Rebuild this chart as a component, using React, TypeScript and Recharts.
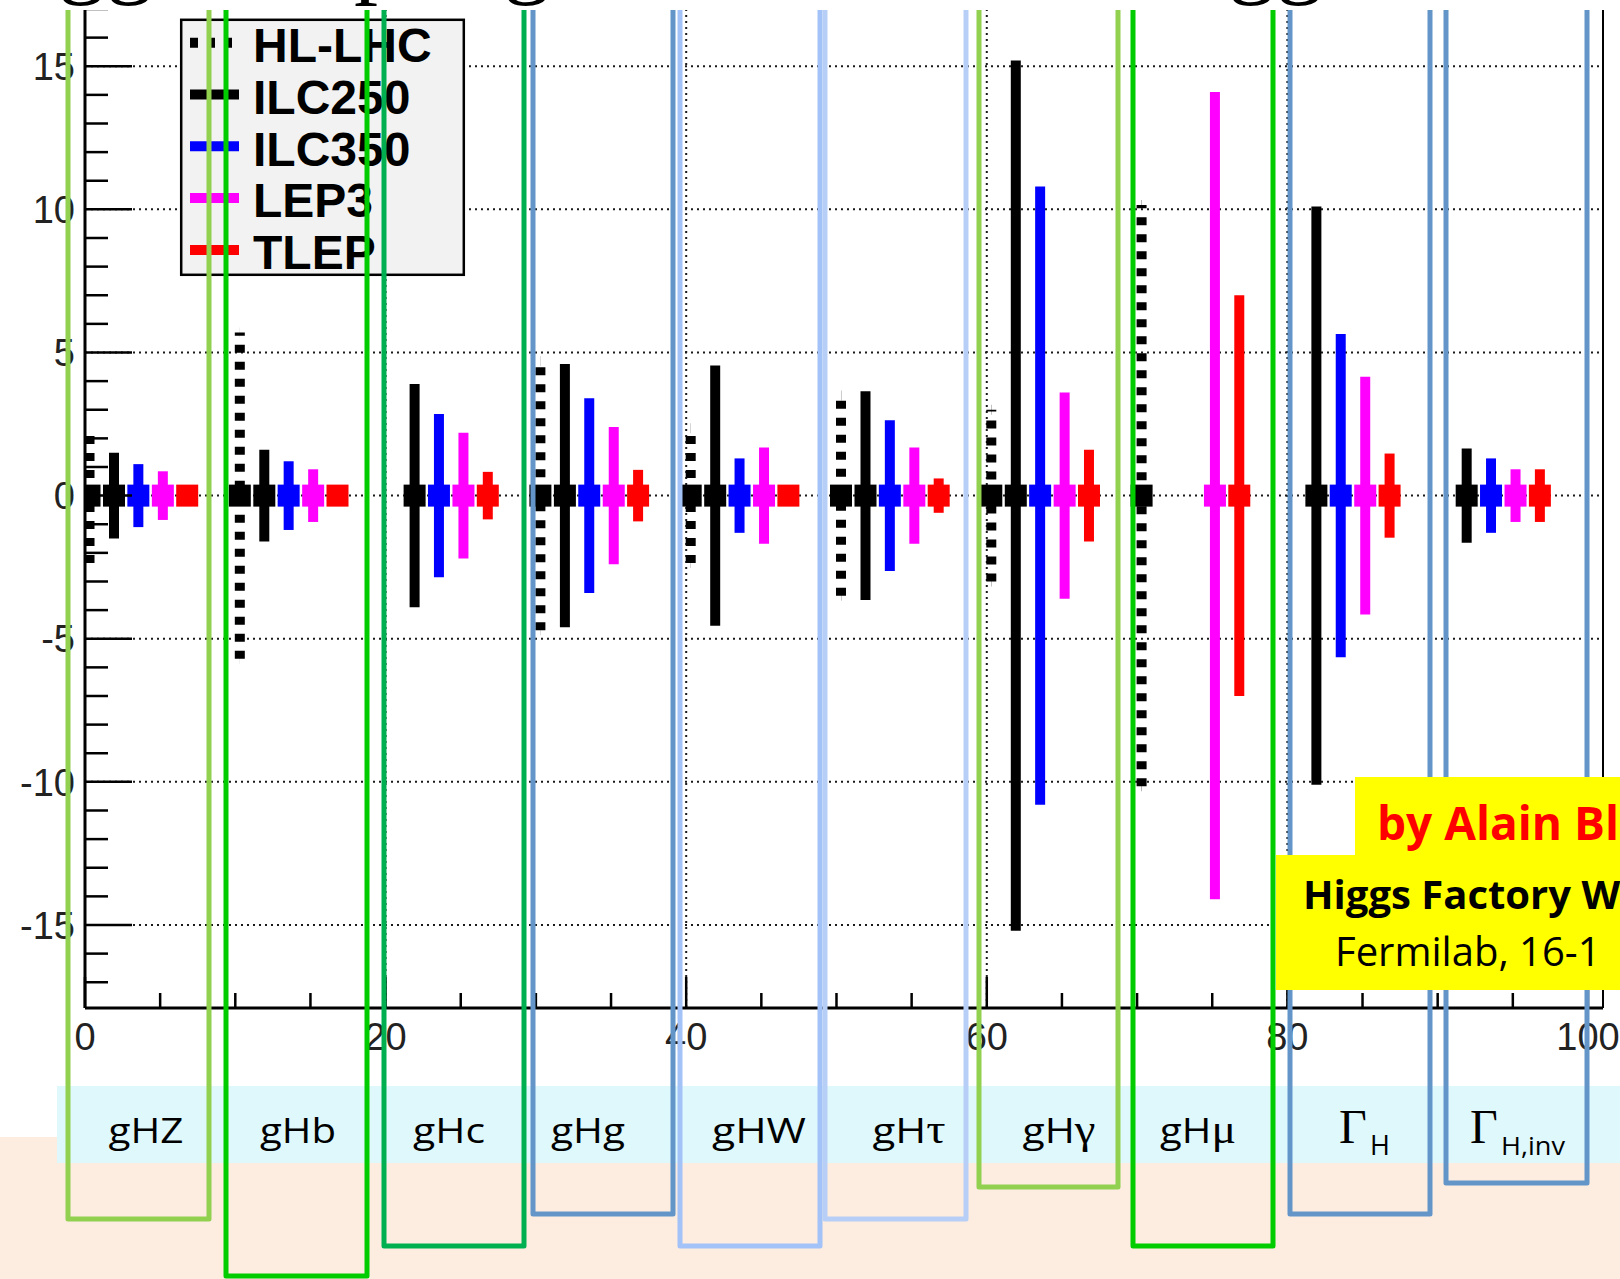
import React from "react";
import {
  ScatterChart,
  Scatter,
  XAxis,
  YAxis,
  CartesianGrid,
  ErrorBar,
  Legend,
  ReferenceLine,
} from "recharts";

// coupling groups, one every 10 units on x
const categories = ["gHZ", "gHb", "gHc", "gHg", "gHW", "gHτ", "gHγ", "gHμ", "ΓH", "ΓH,inv"];
const groupStarts = [0, 10, 20, 30, 40, 50, 60, 70, 80, 90];

// x offset of each machine inside a group
const seriesNames = ["HL-LHC", "ILC250", "ILC350", "LEP3", "TLEP"];
const seriesOffsets = [0.3, 1.93, 3.55, 5.18, 6.8];

// relative precision (±, %) per group, null where the machine has no entry
const hlLhc = [2.35, 5.7, null, 4.7, 2.35, 3.5, 3.0, 10.15, null, null];
const ilc250 = [1.5, 1.6, 3.9, 4.6, 4.55, 3.65, 15.2, null, 10.1, 1.65];
const ilc350 = [1.1, 1.2, 2.85, 3.4, 1.3, 2.63, 10.8, null, 5.65, 1.3];
const lep3 = [0.85, 0.92, 2.2, 2.4, 1.68, 1.68, 3.6, 14.1, 4.15, 0.92];
const tlep = [0.35, 0.35, 0.83, 0.9, 0.35, 0.6, 1.6, 7.0, 1.47, 0.92];

const xTicks = [0, 5, 10, 15, 20, 25, 30, 35, 40, 45, 50, 55, 60, 65, 70, 75, 80, 85, 90, 95, 100];
const xLabels = [0, 20, 40, 60, 80, 100];
const xGrid = [20, 40, 60, 80];
const yTicks = [
  -17, -16, -15, -14, -13, -12, -11, -10, -9, -8, -7, -6, -5, -4, -3, -2, -1, 0,
  1, 2, 3, 4, 5, 6, 7, 8, 9, 10, 11, 12, 13, 14, 15, 16, 17,
];
const yLabels = [-15, -10, -5, 0, 5, 10, 15];

const seriesValues = [hlLhc, ilc250, ilc350, lep3, tlep];
const seriesStyle = [
  { color: "#000000", dash: "8 9" },
  { color: "#000000", dash: undefined },
  { color: "#0000ff", dash: undefined },
  { color: "#ff00ff", dash: undefined },
  { color: "#ff0000", dash: undefined },
];

function buildPoints(values: (number | null)[], offset: number) {
  return values.flatMap((err, i) =>
    err == null ? [] : [{ x: groupStarts[i] + offset, y: 0, err, label: categories[i] }]
  );
}

const AXIS_FONT = "'Liberation Sans', Arial, Helvetica, sans-serif";
const SLIDE_FONT = "'Open Sans', 'Noto Sans', sans-serif";
const SERIF = "'Liberation Serif', 'Times New Roman', serif";

function YTick(props: any) {
  const { x, y, payload } = props;
  const v = payload.value as number;
  const major = yLabels.includes(v);
  return (
    <g>
      <line x1={x} x2={x + (major ? 47 : 23)} y1={y} y2={y} stroke="#000" strokeWidth={2.5} />
      {major && (
        <text x={x - 10} y={y} dy="0.36em" textAnchor="end" fontSize={38} fill="#222" fontFamily={AXIS_FONT}>
          {v}
        </text>
      )}
    </g>
  );
}

function XTick(props: any) {
  const { x, y, payload } = props;
  const v = payload.value as number;
  const major = xLabels.includes(v);
  return (
    <g>
      <line x1={x} x2={x} y1={y} y2={y - (major ? 31 : 15)} stroke="#000" strokeWidth={2.5} />
      {major && (
        <text x={x} y={y + 42} textAnchor="middle" fontSize={38} fill="#222" fontFamily={AXIS_FONT}>
          {v}
        </text>
      )}
    </g>
  );
}

function LegendBox() {
  return (
    <svg width={290} height={262} style={{ display: "block" }}>
      <rect x={2.2} y={1.8} width={282.6} height={255} fill="#f2f2f2" stroke="#000" strokeWidth={2.5} />
      {seriesNames.map((name, i) => {
        const rowY = 24.7 + i * 51.8;
        return (
          <g key={name}>
            <line
              x1={11}
              x2={60}
              y1={rowY}
              y2={rowY}
              stroke={seriesStyle[i].color}
              strokeWidth={10}
              strokeDasharray={seriesStyle[i].dash}
            />
            <text x={74} y={rowY + 2} dy="0.36em" fontSize={48} fontWeight="bold" fontFamily={AXIS_FONT} fill="#000">
              {name}
            </text>
          </g>
        );
      })}
    </svg>
  );
}

// slide annotation layer (coloured frames, label band, credits)
const frames = [
  { left: 68, right: 209, bottom: 1219, color: "#92d050" },
  { left: 226, right: 367, bottom: 1276, color: "#00cc00" },
  { left: 384, right: 524, bottom: 1246, color: "#00b050" },
  { left: 533, right: 673, bottom: 1214, color: "#6395c9" },
  { left: 680, right: 820, bottom: 1246, color: "#a3c2f7" },
  { left: 825, right: 966, bottom: 1219, color: "#b7cff6" },
  { left: 979, right: 1118, bottom: 1187, color: "#92d050" },
  { left: 1133, right: 1273, bottom: 1246, color: "#00cc00" },
  { left: 1290, right: 1430, bottom: 1214, color: "#6395c9" },
  { left: 1446, right: 1587, bottom: 1183, color: "#6395c9" },
];
const labelCenters = [146, 298, 449, 588, 759, 909, 1059, 1198];
const labelWidths = [75, 76, 72, 74, 94, 73, 73, 76];

function BandLabel({ text, i }: { text: string; i: number }) {
  const plain = text.slice(0, 2);
  const rest = text.slice(2);
  const greek = /[τγμ]/.test(rest);
  return (
    <text
      x={labelCenters[i]}
      y={1143}
      textAnchor="middle"
      textLength={labelWidths[i]}
      lengthAdjust="spacingAndGlyphs"
      fontSize={35}
      fontFamily={SLIDE_FONT}
      fill="#000"
    >
      <tspan>{plain}</tspan>
      <tspan fontFamily={greek ? SERIF : SLIDE_FONT} fontSize={greek ? 40 : 35}>
        {rest}
      </tspan>
    </text>
  );
}

function Overlay() {
  return (
    <svg
      width={1620}
      height={1279}
      style={{ position: "absolute", left: 0, top: 0, pointerEvents: "none" }}
    >
      <rect x={0} y={1137} width={1620} height={142} fill="#fdece0" />
      <rect x={57} y={1086} width={1563} height={77} fill="#dff8fc" />
      {categories.slice(0, 8).map((c, i) => (
        <BandLabel key={c} text={c} i={i} />
      ))}
      <text y={1143} fill="#000">
        <tspan x={1339} fontFamily={SERIF} fontSize={48}>Γ</tspan>
        <tspan x={1370} dy={12} fontFamily={SLIDE_FONT} fontSize={27}>H</tspan>
      </text>
      <text y={1143} fill="#000">
        <tspan x={1470} fontFamily={SERIF} fontSize={48}>Γ</tspan>
        <tspan x={1501} dy={12} fontFamily={SLIDE_FONT} fontSize={26} textLength={64} lengthAdjust="spacingAndGlyphs">
          H,inv
        </tspan>
      </text>

      {frames.map((f, i) => (
        <rect
          key={i}
          x={f.left}
          y={-30}
          width={f.right - f.left}
          height={f.bottom + 30}
          fill="none"
          stroke={f.color}
          strokeWidth={5}
          strokeLinejoin="round"
        />
      ))}

      <rect x={1355} y={777} width={265} height={79} fill="#ffff00" />
      <text x={1377} y={840} fontSize={46} fontWeight="bold" fontFamily={SLIDE_FONT} fill="#ff0000">
        by Alain Bl
      </text>
      <rect x={1276} y={855} width={344} height={135} fill="#ffff00" />
      <text x={1303} y={909} fontSize={40} fontWeight="bold" fontFamily={SLIDE_FONT} fill="#000">
        Higgs Factory W
      </text>
      <text x={1335} y={966} fontSize={40} fontFamily={SLIDE_FONT} fill="#000">
        Fermilab, 16-1
      </text>

      <rect x={0} y={0} width={1620} height={10} fill="#ffffff" />
      <text y={-14} fontSize={96} fontFamily={SERIF} fill="#000">
        <tspan x={-38}>Higgs couplings</tspan>
        <tspan x={620}>and the total</tspan>
        <tspan x={1132}>Higgs width</tspan>
      </text>
    </svg>
  );
}

export default function App() {
  return (
    <div
      style={{
        position: "absolute",
        left: 0,
        top: 0,
        width: 1620,
        height: 1279,
        background: "#ffffff",
        overflow: "hidden",
      }}
    >
      <ScatterChart width={1620} height={1279} margin={{ top: 9, right: 17, bottom: 211, left: 0 }}>
        <CartesianGrid
          horizontalValues={yLabels}
          verticalValues={xGrid}
          stroke="#1a1a1a"
          strokeWidth={2}
          strokeDasharray="2 4"
        />
        <XAxis
          type="number"
          dataKey="x"
          domain={[0, 101]}
          allowDataOverflow
          ticks={xTicks}
          interval={0}
          tickSize={0}
          tickMargin={0}
          tickLine={false}
          tick={XTick}
          axisLine={{ stroke: "#000", strokeWidth: 3 }}
          height={60}
        />
        <YAxis
          type="number"
          dataKey="y"
          domain={[-17.9, 17]}
          allowDataOverflow
          ticks={yTicks}
          interval={0}
          tickSize={0}
          tickMargin={0}
          tickLine={false}
          tick={YTick}
          axisLine={{ stroke: "#000", strokeWidth: 3 }}
          width={85}
        />
        <ReferenceLine x={101} stroke="#000" strokeWidth={2} />
        {seriesNames.map((name, i) => {
          const color = seriesStyle[i].color;
          return (
            <Scatter
              key={name}
              name={name}
              data={buildPoints(seriesValues[i], seriesOffsets[i])}
              fill={color}
              isAnimationActive={false}
              shape={(p: any) => <rect x={p.cx - 11} y={p.cy - 11} width={22} height={22} fill={color} />}
            >
              <ErrorBar
                dataKey="err"
                direction="y"
                width={0}
                stroke={color}
                strokeWidth={10}
                strokeDasharray={seriesStyle[i].dash}
                isAnimationActive={false}
              />
            </Scatter>
          );
        })}
        <Legend
          layout="vertical"
          align="center"
          verticalAlign="middle"
          content={() => <LegendBox />}
          wrapperStyle={{ left: 179, top: 18, width: 290, height: 262 }}
        />
      </ScatterChart>
      <Overlay />
    </div>
  );
}
